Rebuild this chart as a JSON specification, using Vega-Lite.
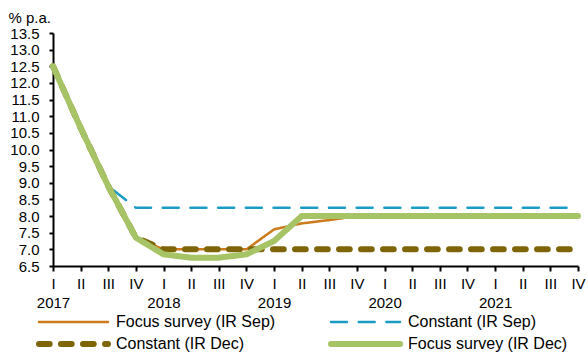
{
  "$schema": "https://vega.github.io/schema/vega-lite/v6.json",
  "width": 525,
  "height": 233,
  "autosize": {"type": "none"},
  "padding": {"left": 53, "top": 33, "right": 10, "bottom": 87},
  "background": "white",
  "config": {
    "view": {"stroke": null},
    "font": "Liberation Sans",
    "axis": {"labelFont": "Liberation Sans", "titleFont": "Liberation Sans", "labelColor": "black", "titleColor": "black", "domainColor": "black", "tickColor": "black", "domainWidth": 2, "tickWidth": 2, "grid": false},
    "legend": {"labelFont": "Liberation Sans"}
  },
  "data": {
    "values": [
      {"series": "Focus survey (IR Sep)", "q": "2017 I", "v": 12.5},
      {"series": "Focus survey (IR Sep)", "q": "2017 II", "v": 10.65},
      {"series": "Focus survey (IR Sep)", "q": "2017 III", "v": 8.9},
      {"series": "Focus survey (IR Sep)", "q": "2017 IV", "v": 7.35},
      {"series": "Focus survey (IR Sep)", "q": "2018 I", "v": 7.0},
      {"series": "Focus survey (IR Sep)", "q": "2018 II", "v": 7.0},
      {"series": "Focus survey (IR Sep)", "q": "2018 III", "v": 7.0},
      {"series": "Focus survey (IR Sep)", "q": "2018 IV", "v": 7.0},
      {"series": "Focus survey (IR Sep)", "q": "2019 I", "v": 7.6},
      {"series": "Focus survey (IR Sep)", "q": "2019 II", "v": 7.78},
      {"series": "Focus survey (IR Sep)", "q": "2019 III", "v": 7.88},
      {"series": "Focus survey (IR Sep)", "q": "2019 IV", "v": 8.0},
      {"series": "Focus survey (IR Sep)", "q": "2020 I", "v": 8.0},
      {"series": "Focus survey (IR Sep)", "q": "2020 II", "v": 8.0},
      {"series": "Focus survey (IR Sep)", "q": "2020 III", "v": 8.0},
      {"series": "Focus survey (IR Sep)", "q": "2020 IV", "v": 8.0},
      {"series": "Focus survey (IR Sep)", "q": "2021 I", "v": 8.0},
      {"series": "Focus survey (IR Sep)", "q": "2021 II", "v": 8.0},
      {"series": "Focus survey (IR Sep)", "q": "2021 III", "v": 8.0},
      {"series": "Focus survey (IR Sep)", "q": "2021 IV", "v": 8.0},

      {"series": "Constant (IR Sep)", "q": "2017 I", "v": 12.5},
      {"series": "Constant (IR Sep)", "q": "2017 II", "v": 10.65},
      {"series": "Constant (IR Sep)", "q": "2017 III", "v": 8.9},
      {"series": "Constant (IR Sep)", "q": "2017 IV", "v": 8.25},
      {"series": "Constant (IR Sep)", "q": "2018 I", "v": 8.25},
      {"series": "Constant (IR Sep)", "q": "2018 II", "v": 8.25},
      {"series": "Constant (IR Sep)", "q": "2018 III", "v": 8.25},
      {"series": "Constant (IR Sep)", "q": "2018 IV", "v": 8.25},
      {"series": "Constant (IR Sep)", "q": "2019 I", "v": 8.25},
      {"series": "Constant (IR Sep)", "q": "2019 II", "v": 8.25},
      {"series": "Constant (IR Sep)", "q": "2019 III", "v": 8.25},
      {"series": "Constant (IR Sep)", "q": "2019 IV", "v": 8.25},
      {"series": "Constant (IR Sep)", "q": "2020 I", "v": 8.25},
      {"series": "Constant (IR Sep)", "q": "2020 II", "v": 8.25},
      {"series": "Constant (IR Sep)", "q": "2020 III", "v": 8.25},
      {"series": "Constant (IR Sep)", "q": "2020 IV", "v": 8.25},
      {"series": "Constant (IR Sep)", "q": "2021 I", "v": 8.25},
      {"series": "Constant (IR Sep)", "q": "2021 II", "v": 8.25},
      {"series": "Constant (IR Sep)", "q": "2021 III", "v": 8.25},
      {"series": "Constant (IR Sep)", "q": "2021 IV", "v": 8.25},

      {"series": "Constant (IR Dec)", "q": "2017 I", "v": 12.5},
      {"series": "Constant (IR Dec)", "q": "2017 II", "v": 10.65},
      {"series": "Constant (IR Dec)", "q": "2017 III", "v": 8.9},
      {"series": "Constant (IR Dec)", "q": "2017 IV", "v": 7.35},
      {"series": "Constant (IR Dec)", "q": "2018 I", "v": 7.0},
      {"series": "Constant (IR Dec)", "q": "2018 II", "v": 7.0},
      {"series": "Constant (IR Dec)", "q": "2018 III", "v": 7.0},
      {"series": "Constant (IR Dec)", "q": "2018 IV", "v": 7.0},
      {"series": "Constant (IR Dec)", "q": "2019 I", "v": 7.0},
      {"series": "Constant (IR Dec)", "q": "2019 II", "v": 7.0},
      {"series": "Constant (IR Dec)", "q": "2019 III", "v": 7.0},
      {"series": "Constant (IR Dec)", "q": "2019 IV", "v": 7.0},
      {"series": "Constant (IR Dec)", "q": "2020 I", "v": 7.0},
      {"series": "Constant (IR Dec)", "q": "2020 II", "v": 7.0},
      {"series": "Constant (IR Dec)", "q": "2020 III", "v": 7.0},
      {"series": "Constant (IR Dec)", "q": "2020 IV", "v": 7.0},
      {"series": "Constant (IR Dec)", "q": "2021 I", "v": 7.0},
      {"series": "Constant (IR Dec)", "q": "2021 II", "v": 7.0},
      {"series": "Constant (IR Dec)", "q": "2021 III", "v": 7.0},
      {"series": "Constant (IR Dec)", "q": "2021 IV", "v": 7.0},

      {"series": "Focus survey (IR Dec)", "q": "2017 I", "v": 12.5},
      {"series": "Focus survey (IR Dec)", "q": "2017 II", "v": 10.65},
      {"series": "Focus survey (IR Dec)", "q": "2017 III", "v": 8.9},
      {"series": "Focus survey (IR Dec)", "q": "2017 IV", "v": 7.35},
      {"series": "Focus survey (IR Dec)", "q": "2018 I", "v": 6.85},
      {"series": "Focus survey (IR Dec)", "q": "2018 II", "v": 6.75},
      {"series": "Focus survey (IR Dec)", "q": "2018 III", "v": 6.75},
      {"series": "Focus survey (IR Dec)", "q": "2018 IV", "v": 6.85},
      {"series": "Focus survey (IR Dec)", "q": "2019 I", "v": 7.25},
      {"series": "Focus survey (IR Dec)", "q": "2019 II", "v": 8.0},
      {"series": "Focus survey (IR Dec)", "q": "2019 III", "v": 8.0},
      {"series": "Focus survey (IR Dec)", "q": "2019 IV", "v": 8.0},
      {"series": "Focus survey (IR Dec)", "q": "2020 I", "v": 8.0},
      {"series": "Focus survey (IR Dec)", "q": "2020 II", "v": 8.0},
      {"series": "Focus survey (IR Dec)", "q": "2020 III", "v": 8.0},
      {"series": "Focus survey (IR Dec)", "q": "2020 IV", "v": 8.0},
      {"series": "Focus survey (IR Dec)", "q": "2021 I", "v": 8.0},
      {"series": "Focus survey (IR Dec)", "q": "2021 II", "v": 8.0},
      {"series": "Focus survey (IR Dec)", "q": "2021 III", "v": 8.0},
      {"series": "Focus survey (IR Dec)", "q": "2021 IV", "v": 8.0}
    ]
  },
  "mark": {"type": "line", "strokeCap": "round", "strokeJoin": "round"},
  "encoding": {
    "x": {
      "field": "q", "type": "ordinal",
      "scale": {"type": "point", "padding": 0},
      "axis": {
        "title": null, "labelAngle": 0, "labelFontSize": 15, "labelLineHeight": 19,
        "tickSize": 5, "labelPadding": 5,
        "labelExpr": "split(datum.value, ' ')[1] == 'I' ? [split(datum.value, ' ')[1], split(datum.value, ' ')[0]] : split(datum.value, ' ')[1]"
      }
    },
    "y": {
      "field": "v", "type": "quantitative",
      "scale": {"domain": [6.5, 13.5], "nice": false, "zero": false},
      "axis": {
        "values": [6.5, 7, 7.5, 8, 8.5, 9, 9.5, 10, 10.5, 11, 11.5, 12, 12.5, 13, 13.5],
        "format": ".1f", "labelFontSize": 15, "tickSize": 4, "labelPadding": 10,
        "title": "% p.a.", "titleAngle": 0, "titleAlign": "left", "titleBaseline": "alphabetic",
        "titleX": -45, "titleY": -11, "titleFontSize": 15, "titleFontWeight": "normal"
      }
    },
    "color": {
      "field": "series", "type": "nominal",
      "scale": {
        "domain": ["Focus survey (IR Sep)", "Constant (IR Sep)", "Constant (IR Dec)", "Focus survey (IR Dec)"],
        "range": ["#CC7A1A", "#1B9CC4", "#7D6508", "#A6C465"]
      },
      "legend": {
        "title": null, "orient": "none", "direction": "horizontal", "legendX": -17, "legendY": 281, "columns": 2,
        "symbolType": "stroke", "symbolSize": 4761, "clipHeight": 16, "labelFontSize": 16, "labelColor": "black",
        "labelOffset": 5, "columnPadding": 52, "rowPadding": 6, "padding": 0,
        "encode": {"symbols": {"update": {"strokeCap": {"value": "round"}}}}
      }
    },
    "strokeDash": {
      "field": "series", "type": "nominal",
      "scale": {
        "domain": ["Focus survey (IR Sep)", "Constant (IR Sep)", "Constant (IR Dec)", "Focus survey (IR Dec)"],
        "range": [[1, 0], [16, 11.7], [10.7, 11.3], [1, 0]]
      }
    },
    "strokeWidth": {
      "field": "series", "type": "nominal",
      "scale": {
        "type": "ordinal",
        "domain": ["Focus survey (IR Sep)", "Constant (IR Sep)", "Constant (IR Dec)", "Focus survey (IR Dec)"],
        "range": [2.5, 2.5, 6, 6]
      }
    }
  }
}
